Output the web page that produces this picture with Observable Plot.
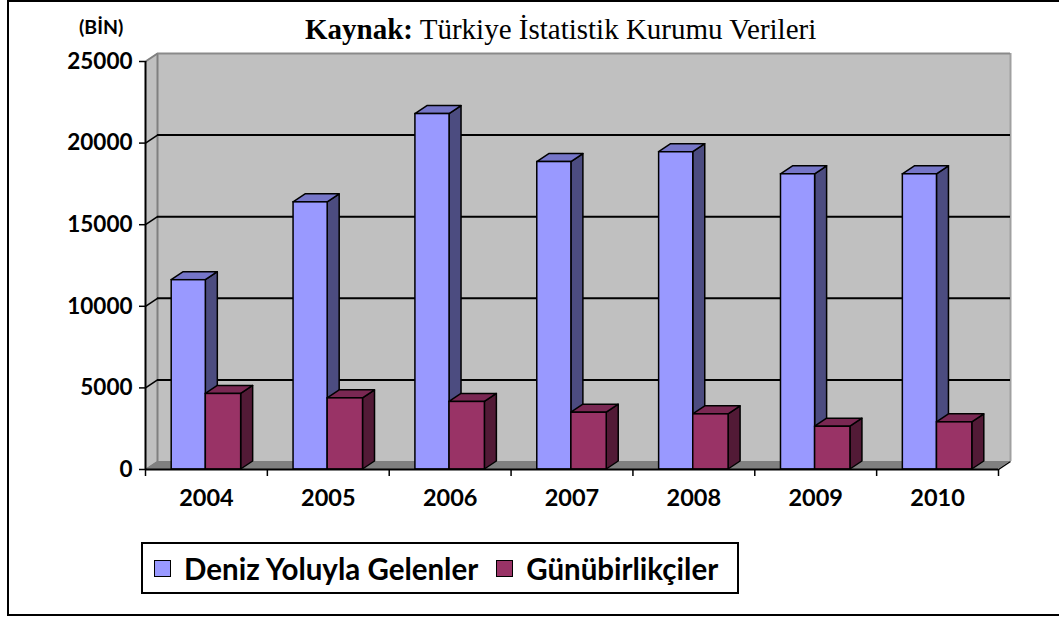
<!DOCTYPE html>
<html>
<head>
<meta charset="utf-8">
<script src="https://cdn.jsdelivr.net/npm/d3@7"></script>
<script src="https://cdn.jsdelivr.net/npm/@observablehq/plot@0.6"></script>
<style>
  body { margin: 0; background: #fff; }
  #wrap { position: relative; width: 1059px; height: 617px; overflow: hidden; background: #fff; }
  #chart { position: absolute; left: 0; top: 0; }
  #frame { position: absolute; left: 7px; top: 0px; width: 1100px; height: 612px; border: 2px solid #000; pointer-events: none; }
  #title { position: absolute; left: 305px; top: 13px; font-family: "Liberation Serif", "Times New Roman", serif; font-size: 29px; color: #000; white-space: nowrap; }
  #unit { position: absolute; left: 79px; top: 15px; font-family: Lato, sans-serif; font-weight: bold; font-size: 19.5px; color: #000; }
  #legend { position: absolute; left: 141px; top: 542px; width: 598px; height: 52px; border: 2px solid #000; background: #fff;
            font-family: Lato, sans-serif; font-weight: bold; font-size: 29.5px; color: #000; display: flex; align-items: center; padding-left: 11px; box-sizing: border-box; white-space: nowrap; }
  .sw { display: inline-block; width: 15px; height: 15px; border: 1.5px solid #000; margin-right: 13px; }
  .item { display: flex; align-items: center; margin-right: 18px; }
</style>
</head>
<body>
<div id="wrap">
  <div id="chart"></div>
  <div id="unit">(BİN)</div>
  <div id="title"><b>Kaynak:</b> Türkiye İstatistik Kurumu Verileri</div>
  <div id="legend"></div>
  <div id="frame"></div>
</div>
<script>
// ---- data ----
const years = ["2004", "2005", "2006", "2007", "2008", "2009", "2010"];
const denizYoluyla = [11600, 16370, 21780, 18840, 19440, 18090, 18090];
const gunubirlikciler = [4630, 4360, 4140, 3480, 3380, 2620, 2890];
const seriesNames = ["Deniz Yoluyla Gelenler", "Günübirlikçiler"];
const yTicks = [0, 5000, 10000, 15000, 20000, 25000];

// ---- styles / layout ----
const frontColors = ["#9999FF", "#993366"];
const topColors = ["#7676C8", "#7A2853"];
const sideColors = ["#4C4C80", "#521A36"];
const W = 1059, H = 617, ML = 145, MR = 61, MT = 61, MB = 148;
const N = years.length, YMAX = 25000;
const DX = 12, DY = 8; // depth in pixels
const ox = DX * N / (W - ML - MR);
const oy = DY * YMAX / (H - MT - MB);
const barStart = [0.215, 0.495], barEnd = [0.495, 0.785];

const series = [denizYoluyla, gunubirlikciler];
const bars = [];
series.forEach((vals, s) => vals.forEach((v, i) => {
  bars.push({id: `${s}-${i}`, s, i, v, x1: i + barStart[s], x2: i + barEnd[s]});
}));
const tops = bars.flatMap(b => [
  {id: b.id, s: b.s, y: b.v, x1: b.x1, x2: b.x2},
  {id: b.id, s: b.s, y: b.v + oy, x1: b.x1 + ox, x2: b.x2 + ox}
]);
const sides = bars.flatMap(b => [
  {id: b.id, s: b.s, x: b.x2, y1: 0, y2: b.v},
  {id: b.id, s: b.s, x: b.x2 + ox, y1: oy, y2: b.v + oy}
]);

const wallLeft = [{x: 0, y1: 0, y2: YMAX}, {x: ox, y1: oy, y2: YMAX + oy}];
const floor = [{y: 0, x1: 0, x2: N}, {y: oy, x1: ox, x2: N + ox}];
const gridVals = yTicks.filter(t => t > 0 && t < YMAX);

const barMarks = [];
[0, 1].forEach(s => {
  barMarks.push(
    Plot.areaY(sides.filter(d => d.s === s), {x: "x", y1: "y1", y2: "y2", z: "id", fill: sideColors[s], stroke: "#000", strokeWidth: 1.5, curve: "linear"}),
    Plot.areaX(tops.filter(d => d.s === s), {y: "y", x1: "x1", x2: "x2", z: "id", fill: topColors[s], stroke: "#000", strokeWidth: 1.5, curve: "linear"}),
    Plot.rect(bars.filter(d => d.s === s), {x1: "x1", x2: "x2", y1: 0, y2: "v", fill: frontColors[s], stroke: "#000", strokeWidth: 1.5})
  );
});

const chart = Plot.plot({
  width: W, height: H,
  marginLeft: ML, marginRight: MR, marginTop: MT, marginBottom: MB,
  style: {background: "transparent", color: "#000", fontFamily: "Lato, sans-serif"},
  x: {type: "linear", domain: [0, N], axis: null},
  y: {type: "linear", domain: [0, YMAX], axis: null},
  marks: [
    // back wall
    Plot.rect([0], {x1: ox, x2: N + ox, y1: oy, y2: YMAX + oy, fill: "#C0C0C0"}),
    // left wall
    Plot.areaY(wallLeft, {x: "x", y1: "y1", y2: "y2", fill: "#C0C0C0", curve: "linear"}),
    // floor
    Plot.areaX(floor, {y: "y", x1: "x1", x2: "x2", fill: "#808080", curve: "linear"}),
    // wall edges
    Plot.ruleX([ox], {y1: oy, y2: YMAX + oy, stroke: "#808080", strokeWidth: 2}),
    Plot.ruleX([N + ox], {y1: oy, y2: YMAX + oy, stroke: "#A0A0A0", strokeWidth: 2}),
    Plot.ruleY([YMAX + oy], {x1: ox, x2: N + ox, stroke: "#8A8A8A", strokeWidth: 2}),
    Plot.link([YMAX], {x1: 0, y1: d => d, x2: ox, y2: d => d + oy, stroke: "#808080", strokeWidth: 2}),
    Plot.link([0], {x1: 0, y1: 0, x2: ox, y2: oy, stroke: "#808080", strokeWidth: 1.5}),
    // gridlines on back wall + left wall
    Plot.ruleY(gridVals, {y: d => d + oy, x1: ox, x2: N + ox, stroke: "#000", strokeWidth: 2}),
    Plot.link(gridVals, {x1: 0, y1: d => d, x2: ox, y2: d => d + oy, stroke: "#000", strokeWidth: 1.5}),
    // bars
    ...barMarks,
    // axes lines
    Plot.ruleX([0], {y1: 0, y2: YMAX, stroke: "#000", strokeWidth: 2}),
    Plot.ruleY([0], {x1: 0, x2: N, stroke: "#000", strokeWidth: 2}),
    Plot.link([N], {x1: d => d, y1: 0, x2: d => d + ox, y2: oy, stroke: "#000", strokeWidth: 1.5}),
    Plot.axisY({ticks: yTicks, tickFormat: d => String(d), tickSize: 6, tickPadding: 7, strokeWidth: 1.5,
                fontSize: 22.5, fontWeight: "bold", fontFamily: "Lato, sans-serif", label: null}),
    Plot.axisX({ticks: d3.range(0, N + 1), tickFormat: () => "", tickSize: 7, strokeWidth: 1.5, label: null}),
    Plot.axisX({ticks: years.map((_, i) => i + 0.5), tickFormat: d => years[Math.floor(d)], tickSize: 0, tickPadding: 20,
                fontSize: 23.5, fontWeight: "bold", fontFamily: "Lato, sans-serif", label: null})
  ]
});
document.getElementById("chart").appendChild(chart);

// legend
const legend = document.getElementById("legend");
seriesNames.forEach((name, s) => {
  const item = document.createElement("span");
  item.className = "item";
  const sw = document.createElement("span");
  sw.className = "sw";
  sw.style.background = frontColors[s];
  item.appendChild(sw);
  item.appendChild(document.createTextNode(name));
  legend.appendChild(item);
});
</script>
</body>
</html>
